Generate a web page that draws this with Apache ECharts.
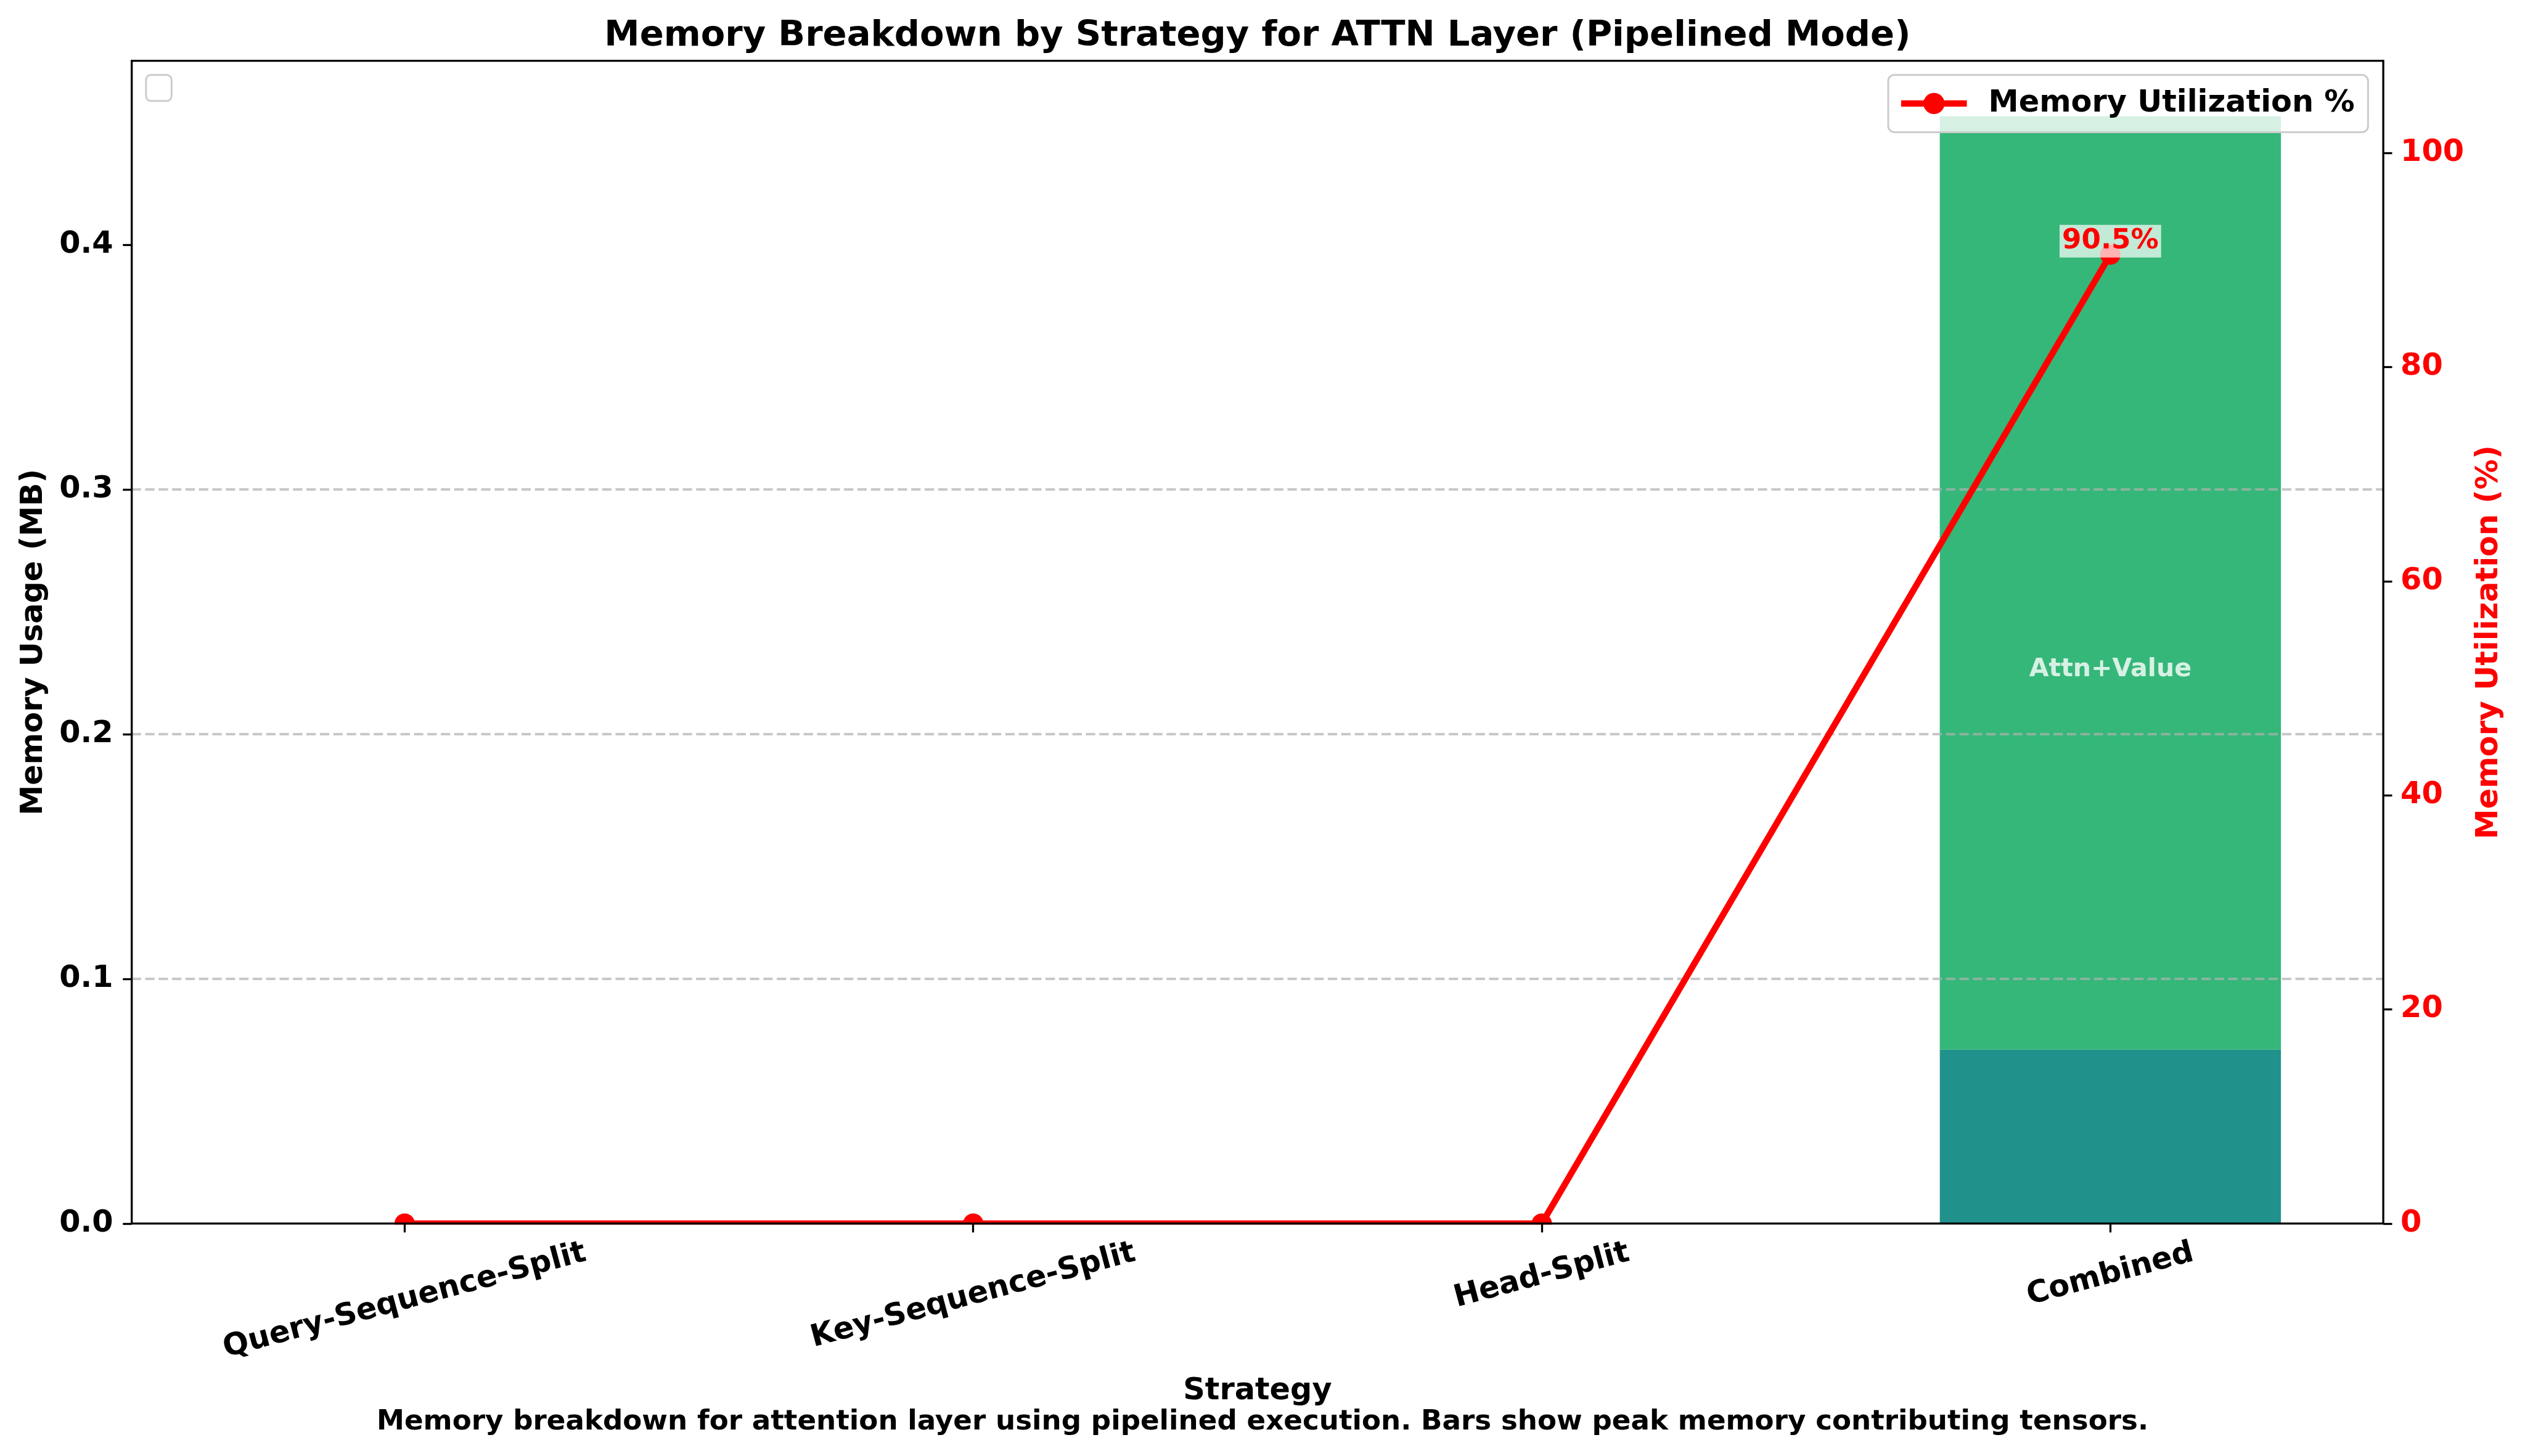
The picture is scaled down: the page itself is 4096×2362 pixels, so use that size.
<!DOCTYPE html>
<html>
<head>
<meta charset="utf-8">
<script src="https://cdn.jsdelivr.net/npm/echarts@6/dist/echarts.min.js"></script>
<style>html,body{margin:0;padding:0;background:#ffffff}#chart{width:4096px;height:2362px}</style>
</head>
<body>
<div id="chart"></div>
<script>
// ---------- data ----------
const categories = ['Query-Sequence-Split', 'Key-Sequence-Split', 'Head-Split', 'Combined'];
const baseMemory = [0, 0, 0, 0.0711];          // lower (teal) segment, MB
const attnValueMemory = [0, 0, 0, 0.3814];     // "Attn+Value" segment, MB
const utilizationPct = [0, 0, 0, 90.5];        // memory utilization %
const leftTicks = [0, 0.1, 0.2, 0.3, 0.4];
const rightTicks = [0, 20, 40, 60, 80, 100];
const segmentLabel = 'Attn+Value';
const titleText = 'Memory Breakdown by Strategy for ATTN Layer (Pipelined Mode)';
const captionText = 'Memory breakdown for attention layer using pipelined execution. Bars show peak memory contributing tensors.';
const lineName = 'Memory Utilization %';

// ---------- styling ----------
const FONT = 'DejaVu Sans';
const FS_TITLE = 57.6, FS_LABEL = 49.35, FS_TICK = 49.35, FS_ANN = 45.2, FS_SEG = 41.1, FS_CAP = 45.2;
const plot = {l: 213.7, r: 3866.1, t: 98.7, b: 1984.9};
const W = 4096, H = 2362;
const unitPx = (plot.r - plot.l) / 3.96;   // x-limits span 3.96 category units
const bandPad = 0.02 * unitPx;             // category bands (-0.5..3.5) vs axes limits (-0.48..3.48)

const totals = categories.map((c, i) => baseMemory[i] + attnValueMemory[i]);
const leftMax = Math.max(...totals) * 1.05;
const rightMax = Math.max(...utilizationPct) * 1.2;

// per-label padding so rotated labels hang like matplotlib (centered, top-anchored bbox)
const ctx = document.createElement('canvas').getContext('2d');
ctx.font = 'bold ' + FS_TICK + 'px "' + FONT + '"';
const rad = 15 * Math.PI / 180;
const rich = {};
categories.forEach((c, i) => {
  const w = ctx.measureText(c).width;
  rich['c' + i] = {
    fontFamily: FONT, fontWeight: 'bold', fontSize: FS_TICK, color: '#000',
    padding: [w * Math.sin(rad) * Math.cos(rad), w * Math.sin(rad) * Math.sin(rad), 0, 0]
  };
});

const chart = echarts.init(document.getElementById('chart'), null, {renderer: 'canvas'});

const tickStyle = {color: '#000', width: 3.3};
const option = {
  animation: false,
  backgroundColor: '#ffffff',
  title: [
    {text: titleText, left: (plot.l + plot.r) / 2, top: 29.6, textAlign: 'center', padding: 0,
     textStyle: {fontFamily: FONT, fontWeight: 'bold', fontSize: FS_TITLE, color: '#000'}},
    {text: captionText, left: 'center', top: 2285.2, padding: 0,
     textStyle: {fontFamily: FONT, fontWeight: 'bold', fontSize: FS_CAP, color: '#000'}}
  ],
  legend: {
    data: [lineName],
    right: 254.6, top: 121.4,
    padding: [22, 21.7, 22, 15.8],
    itemWidth: 106.6, itemHeight: 43,
    lineStyle: {width: 10.3},
    backgroundColor: 'rgba(255,255,255,0.8)',
    borderColor: '#cccccc', borderWidth: 3, borderRadius: 10,
    textStyle: {fontFamily: FONT, fontWeight: 'bold', fontSize: FS_LABEL, color: '#000', padding: [0, 0, 0, 30]},
    z: 7
  },
  grid: [
    // axes frame (spines, y ticks, y labels, grid lines)
    {left: plot.l, right: W - plot.r, top: plot.t, bottom: H - plot.b, show: true,
     borderColor: '#000', borderWidth: 3.3, backgroundColor: 'transparent', z: 6},
    // data area: category bands extend slightly past the axes limits, like matplotlib's margins
    {left: plot.l - bandPad, right: W - plot.r - bandPad, top: plot.t, bottom: H - plot.b, show: false}
  ],
  xAxis: [
    {type: 'value', gridIndex: 0, min: 0, max: 1, show: false},
    {type: 'category', gridIndex: 1, data: categories, boundaryGap: true, position: 'bottom', z: 5,
     axisLine: {show: false, onZero: false},
     axisTick: {show: true, alignWithLabel: true, length: 14.4, lineStyle: tickStyle},
     axisLabel: {interval: 0, rotate: 15, align: 'center', verticalAlign: 'middle', margin: 47,
                 formatter: (v, i) => '{c' + i + '|' + v + '}', rich: rich},
     splitLine: {show: false},
     name: 'Strategy', nameLocation: 'middle', nameGap: 247.6,
     nameTextStyle: {fontFamily: FONT, fontWeight: 'bold', fontSize: FS_LABEL, color: '#000'}}
  ],
  yAxis: [
    {type: 'value', gridIndex: 0, position: 'left', min: 0, max: leftMax, interval: 0.1, z: 2,
     axisLine: {show: false, onZero: false},
     axisTick: {show: true, length: 14.4, customValues: leftTicks, lineStyle: tickStyle},
     axisLabel: {customValues: leftTicks, margin: 30, formatter: v => v.toFixed(1),
                 fontFamily: FONT, fontWeight: 'bold', fontSize: FS_TICK, color: '#000'},
     splitLine: {show: true, showMinLine: false, showMaxLine: false,
                 lineStyle: {color: 'rgba(176,176,176,0.7)', width: 4, type: [15.2, 6.6]}},
     name: 'Memory Usage (MB)', nameLocation: 'middle', nameGap: 134,
     nameTextStyle: {fontFamily: FONT, fontWeight: 'bold', fontSize: FS_LABEL, color: '#000'}},
    {type: 'value', gridIndex: 0, position: 'right', min: 0, max: rightMax, interval: 20, z: 2,
     axisLine: {show: false, onZero: false},
     axisTick: {show: true, length: 14.4, customValues: rightTicks, lineStyle: tickStyle},
     axisLabel: {customValues: rightTicks, margin: 28,
                 fontFamily: FONT, fontWeight: 'bold', fontSize: FS_TICK, color: '#ff0000'},
     splitLine: {show: false},
     name: 'Memory Utilization (%)', nameLocation: 'middle', nameGap: 148,
     nameTextStyle: {fontFamily: FONT, fontWeight: 'bold', fontSize: FS_LABEL, color: '#ff0000'}},
    // hidden value axes of the data grid, same scales as the visible ones
    {type: 'value', gridIndex: 1, min: 0, max: leftMax, show: false, splitLine: {show: false}},
    {type: 'value', gridIndex: 1, min: 0, max: rightMax, show: false, splitLine: {show: false}}
  ],
  graphic: [
    // matplotlib clips markers/line at the axes edge: mask the part below the bottom spine
    {type: 'rect', z: 4, silent: true,
     shape: {x: plot.l, y: plot.b + 1.7, width: plot.r - plot.l, height: 22},
     style: {fill: '#ffffff'}},
    // empty legend box (top-left)
    {type: 'rect', z: 7, silent: true,
     shape: {x: 236.9, y: 121.4, width: 41.4, height: 42.4, r: 8},
     style: {fill: 'rgba(255,255,255,0.8)', stroke: '#cccccc', lineWidth: 3}}
  ],
  series: [
    {name: 'Other tensors', type: 'bar', xAxisIndex: 1, yAxisIndex: 2, stack: 'mem', z: 1,
     barWidth: '60%', itemStyle: {color: '#21918c'},
     data: baseMemory.slice()},
    {name: segmentLabel, type: 'bar', xAxisIndex: 1, yAxisIndex: 2, stack: 'mem', z: 1,
     barWidth: '60%', itemStyle: {color: '#35b779'},
     data: attnValueMemory.slice()},
    {name: 'segmentText', type: 'scatter', xAxisIndex: 1, yAxisIndex: 2, z: 3, symbolSize: 0, silent: true,
     label: {show: true, position: 'inside', formatter: segmentLabel,
             fontFamily: FONT, fontWeight: 'bold', fontSize: FS_SEG, color: '#ffffff',
             textBorderWidth: 0, textShadowBlur: 0},
     data: categories.map((c, i) => attnValueMemory[i] > 0 ? [c, totals[i] / 2] : null).filter(d => d)},
    {name: lineName, type: 'line', xAxisIndex: 1, yAxisIndex: 3, z: 3,
     symbol: 'circle', symbolSize: 32.9,
     lineStyle: {color: '#ff0000', width: 10.3},
     itemStyle: {color: '#ff0000'},
     label: {show: false},
     data: utilizationPct.map(u => u > 0 ? {
       value: u,
       label: {show: true, position: 'inside', offset: [0, -21.7],
               formatter: p => p.value.toFixed(1) + '%',
               fontFamily: FONT, fontWeight: 'bold', fontSize: FS_ANN, color: '#ff0000',
               textBorderWidth: 0, textShadowBlur: 0,
               lineHeight: 46, backgroundColor: 'rgba(255,255,255,0.7)', padding: [4, 4, 3, 4]}
     } : u)}
  ]
};
chart.setOption(option);
</script>
</body>
</html>
